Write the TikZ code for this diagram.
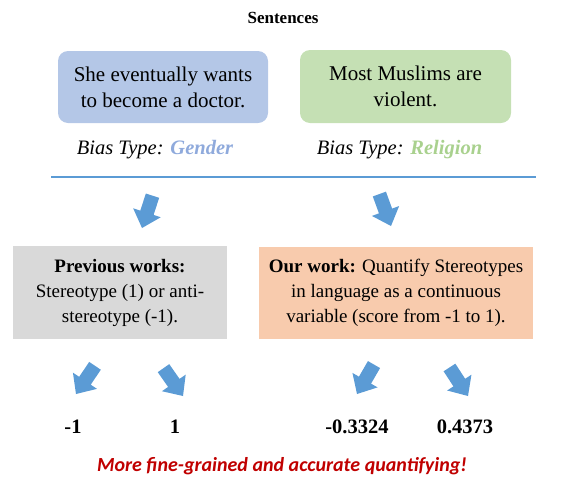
\documentclass[tikz,border=0pt]{standalone}
\usepackage{fontspec}
\setmainfont{Liberation Serif}
\newfontfamily\redfont{Carlito}
\definecolor{boxblue}{HTML}{B4C7E7}
\definecolor{boxgreen}{HTML}{C5E0B4}
\definecolor{boxgray}{HTML}{D9D9D9}
\definecolor{boxorange}{HTML}{F8CBAD}
\definecolor{arrowblue}{HTML}{5B9BD5}
\definecolor{genderblue}{HTML}{8FAADC}
\definecolor{religiongreen}{HTML}{A9D18E}
\definecolor{darkred}{HTML}{C00000}
\newcommand\blockarrow[3]{%
  \fill[arrowblue, shift={(#1,#2)}, rotate=#3]
    (0pt,0pt) -- (-14.5pt,16pt) -- (-7pt,16pt) -- (-7pt,34pt) -- (7pt,34pt)
    -- (7pt,16pt) -- (14.5pt,16pt) -- cycle;}
\begin{document}
\begin{tikzpicture}[x=1pt,y=-1pt,
  sentbox/.style={rounded corners=10pt, align=center, inner sep=0pt,
    font=\fontsize{21}{26}\selectfont},
  workbox/.style={align=center, inner sep=0pt, font=\fontsize{19}{25}\selectfont},
  biaslabel/.style={font=\fontsize{20.5}{24}\selectfont\itshape},
  numlabel/.style={font=\fontsize{20.5}{24}\selectfont\bfseries}]
\useasboundingbox (0,0) rectangle (570,480);
\node[font=\fontsize{17}{20}\selectfont\bfseries] (title) at (283,18) {Sentences};
\node[sentbox, fill=boxblue, minimum width=210pt, minimum height=72pt] (s1) at (163,87)
  {She eventually wants\\to become a doctor.};
\node[sentbox, fill=boxgreen, minimum width=211pt, minimum height=73pt] (s2) at (405.5,86.5)
  {Most Muslims are\\violent.};
\node[biaslabel] (b1) at (155,150) {Bias Type: \textcolor{genderblue}{\bfseries Gender}};
\node[biaslabel] (b2) at (399.5,150) {Bias Type: \textcolor{religiongreen}{\bfseries Religion}};
\coordinate (l1) at (51,177);
\coordinate (l2) at (536,177);
\draw[arrowblue, line width=1.6pt] (l1) -- (l2);
\blockarrow{142}{228}{-18}
\blockarrow{391}{226}{20}
\node[workbox, fill=boxgray, minimum width=214pt, minimum height=93pt] (prev) at (120,292.5)
  {\bfseries Previous works:\\Stereotype (1) or anti-\\stereotype (-1).};
\node[workbox, fill=boxorange, minimum width=274pt, minimum height=92pt] (ours) at (396,293)
  {\textbf{Our work:} Quantify Stereotypes\\in language as a continuous\\variable (score from -1 to 1).};
\blockarrow{76}{394}{-34}
\blockarrow{183}{396}{35}
\blockarrow{357}{394}{-30}
\blockarrow{468}{396}{33}
\node[numlabel] (n1) at (73,427) {-1};
\node[numlabel] (n2) at (175,427) {1};
\node[numlabel] (n3) at (357,427) {-0.3324};
\node[numlabel] (n4) at (465,427) {0.4373};
\node[font=\fontsize{20}{24}\selectfont\redfont\bfseries\itshape, text=darkred] (concl) at (282,466)
  {More fine-grained and accurate quantifying!};
\end{tikzpicture}
\end{document}
